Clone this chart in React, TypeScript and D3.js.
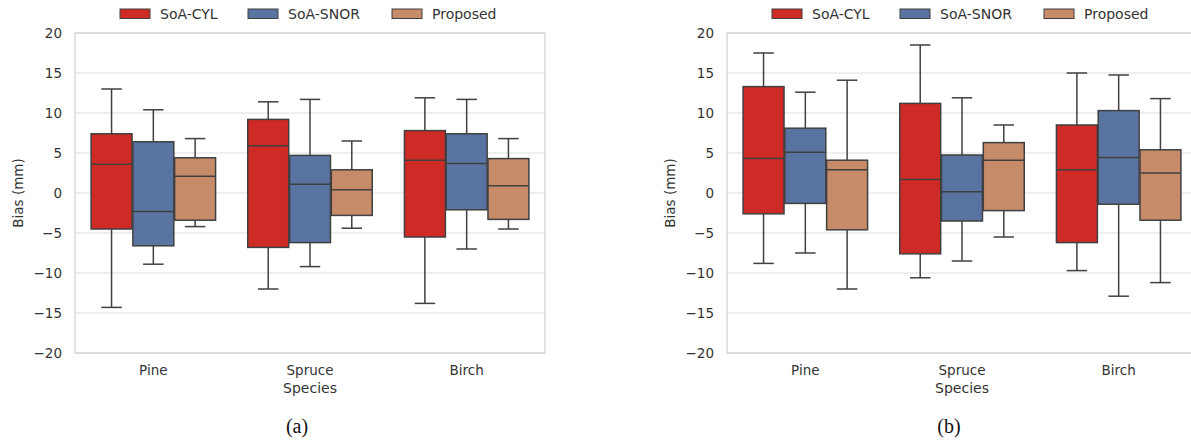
import React, { useEffect, useRef } from "react";
import * as d3 from "d3";

// species on the x axis
const species = ["Pine", "Spruce", "Birch"];
// methods (hue)
const methods = ["SoA-CYL", "SoA-SNOR", "Proposed"];
const methodColors = ["#cf2b26", "#5a74a2", "#c68b69"];
const yTicks = [-20, -15, -10, -5, 0, 5, 10, 15, 20];

// box stats per species: [whisker low, q1, median, q3, whisker high]
// panel (a)
const aCYL = [
  [-14.3, -4.5, 3.6, 7.4, 13.0],
  [-12.0, -6.8, 5.9, 9.2, 11.4],
  [-13.8, -5.5, 4.1, 7.8, 11.9],
];
const aSNOR = [
  [-8.9, -6.6, -2.3, 6.4, 10.4],
  [-9.2, -6.2, 1.1, 4.7, 11.7],
  [-7.0, -2.1, 3.7, 7.4, 11.7],
];
const aProposed = [
  [-4.2, -3.4, 2.1, 4.4, 6.8],
  [-4.4, -2.8, 0.4, 2.9, 6.5],
  [-4.5, -3.3, 0.9, 4.3, 6.8],
];
// panel (b)
const bCYL = [
  [-8.8, -2.6, 4.3, 13.3, 17.5],
  [-10.6, -7.6, 1.7, 11.2, 18.5],
  [-9.7, -6.2, 2.9, 8.5, 15.0],
];
const bSNOR = [
  [-7.5, -1.3, 5.1, 8.1, 12.6],
  [-8.5, -3.5, 0.15, 4.75, 11.9],
  [-12.9, -1.4, 4.45, 10.3, 14.75],
];
const bProposed = [
  [-12.0, -4.6, 2.9, 4.1, 14.1],
  [-5.5, -2.2, 4.1, 6.3, 8.5],
  [-11.2, -3.4, 2.5, 5.4, 11.8],
];

const panels = [
  { id: "a", offset: 0, series: [aCYL, aSNOR, aProposed] },
  { id: "b", offset: 652, series: [bCYL, bSNOR, bProposed] },
];

const font = "'DejaVu Sans', sans-serif";
const textColor = "#333";
const edge = "#404040";

export default function App() {
  const ref = useRef<SVGSVGElement>(null);

  useEffect(() => {
    const svg = d3.select(ref.current);
    svg.selectAll("*").remove();

    const left = 75, top = 33, w = 470, h = 320;

    panels.forEach((p) => {
      const g = svg.append("g").attr("transform", `translate(${left + p.offset}, 0)`);

      const x = d3.scaleBand().domain(species).range([0, w]).padding(0);
      const groupW = x.bandwidth() * 0.8;
      const xi = d3.scaleBand().domain(methods).range([0, groupW]);
      const y = d3.scaleLinear().domain([-20, 20]).range([top + h, top]);

      // grid
      g.selectAll(".grid")
        .data(yTicks)
        .join("line")
        .attr("x1", 0)
        .attr("x2", w)
        .attr("y1", (d) => y(d))
        .attr("y2", (d) => y(d))
        .attr("stroke", "#dedede")
        .attr("stroke-width", 1);

      // frame
      g.append("rect")
        .attr("x", 0)
        .attr("y", top)
        .attr("width", w)
        .attr("height", h)
        .attr("fill", "none")
        .attr("stroke", "#d0d0d0")
        .attr("stroke-width", 1.2);

      // y tick labels
      g.selectAll(".ytick")
        .data(yTicks)
        .join("text")
        .attr("x", -13)
        .attr("y", (d) => y(d))
        .attr("dy", "0.35em")
        .attr("text-anchor", "end")
        .attr("font-family", font)
        .attr("font-size", 13.5)
        .attr("fill", textColor)
        .text((d) => (d < 0 ? "\u2212" + Math.abs(d) : String(d)));

      // x tick labels
      g.selectAll(".xtick")
        .data(species)
        .join("text")
        .attr("x", (d) => x(d)! + x.bandwidth() / 2)
        .attr("y", top + h + 22)
        .attr("text-anchor", "middle")
        .attr("font-family", font)
        .attr("font-size", 13.5)
        .attr("fill", textColor)
        .text((d) => d);

      // axis titles
      g.append("text")
        .attr("x", w / 2)
        .attr("y", top + h + 40)
        .attr("text-anchor", "middle")
        .attr("font-family", font)
        .attr("font-size", 14)
        .attr("fill", textColor)
        .text("Species");

      g.append("text")
        .attr("transform", `translate(${-52}, ${y(0)}) rotate(-90)`)
        .attr("text-anchor", "middle")
        .attr("font-family", font)
        .attr("font-size", 13.5)
        .attr("fill", textColor)
        .text("Bias (mm)");

      // boxes
      p.series.forEach((stats, si) => {
        const color = methodColors[si];
        stats.forEach((s, ci) => {
          const [lo, q1, med, q3, hi] = s;
          const bw = xi.bandwidth() * 0.98;
          const x0 = x(species[ci])! + (x.bandwidth() - groupW) / 2 + xi(methods[si])! + (xi.bandwidth() - bw) / 2;
          const cx = x0 + bw / 2;
          const cap = bw / 2;
          const bg = g.append("g");
          // whiskers
          bg.append("line").attr("x1", cx).attr("x2", cx).attr("y1", y(hi)).attr("y2", y(q3))
            .attr("stroke", edge).attr("stroke-width", 1.5);
          bg.append("line").attr("x1", cx).attr("x2", cx).attr("y1", y(q1)).attr("y2", y(lo))
            .attr("stroke", edge).attr("stroke-width", 1.5);
          bg.append("line").attr("x1", cx - cap / 2).attr("x2", cx + cap / 2).attr("y1", y(hi)).attr("y2", y(hi))
            .attr("stroke", edge).attr("stroke-width", 1.5);
          bg.append("line").attr("x1", cx - cap / 2).attr("x2", cx + cap / 2).attr("y1", y(lo)).attr("y2", y(lo))
            .attr("stroke", edge).attr("stroke-width", 1.5);
          // box
          bg.append("rect")
            .attr("x", x0)
            .attr("y", y(q3))
            .attr("width", bw)
            .attr("height", y(q1) - y(q3))
            .attr("fill", color)
            .attr("stroke", edge)
            .attr("stroke-width", 1.5);
          // median
          bg.append("line").attr("x1", x0).attr("x2", x0 + bw).attr("y1", y(med)).attr("y2", y(med))
            .attr("stroke", edge).attr("stroke-width", 1.5);
        });
      });

      // legend
      const legendX = [45, 173, 317];
      methods.forEach((m, i) => {
        const lg = g.append("g").attr("transform", `translate(${legendX[i]}, 0)`);
        lg.append("rect")
          .attr("x", 0)
          .attr("y", 9)
          .attr("width", 30)
          .attr("height", 9.5)
          .attr("fill", methodColors[i])
          .attr("stroke", edge)
          .attr("stroke-width", 1);
        lg.append("text")
          .attr("x", 40)
          .attr("y", 14)
          .attr("dy", "0.35em")
          .attr("font-family", font)
          .attr("font-size", 14)
          .attr("fill", textColor)
          .text(m);
      });

      // sub caption
      g.append("text")
        .attr("x", p.id === "a" ? 222 : 222)
        .attr("y", 433)
        .attr("text-anchor", "middle")
        .attr("font-family", "'Liberation Serif', 'Times New Roman', serif")
        .attr("font-size", 20)
        .attr("fill", "#111")
        .text(`(${p.id})`);
    });
  }, []);

  return (
    <div style={{ position: "absolute", left: 0, top: 0 }}>
      <svg ref={ref} width={1191} height={444} style={{ display: "block", background: "#fff" }} />
    </div>
  );
}
